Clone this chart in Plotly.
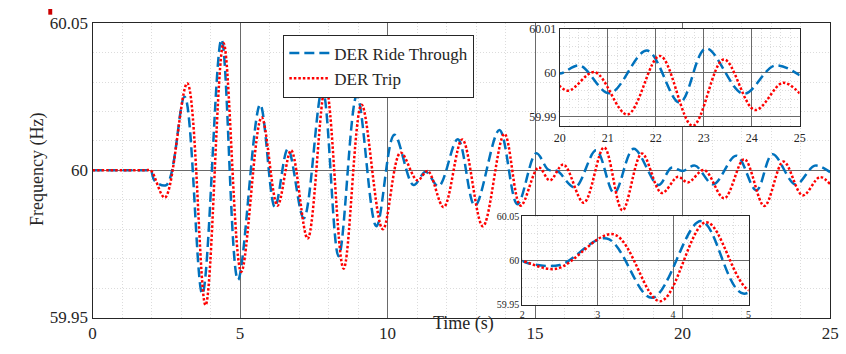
import plotly.graph_objects as go

# Time (s) and frequency (Hz): DER Ride Through
t_ride = [0, 1.0, 1.8, 1.97, 2.1, 2.5, 3.12, 3.72, 4.37, 4.93, 5.68, 6.18, 6.62, 7.16, 7.79, 8.34,
          8.96, 9.62, 10.23, 10.88, 11.29, 11.73, 12.38, 12.96, 13.79, 14.40, 15.04,
          15.45, 15.75, 16.35, 17.07, 17.68, 18.34, 19.18, 19.62, 20.0, 20.42, 21.04,
          21.82, 22.50, 23.05, 23.83, 24.48, 25.0]
f_ride = [60.0, 60.0, 60.0, 60.0, 59.9965, 59.9950, 60.0250, 59.9580, 60.0445, 59.9628, 60.0223,
          59.9875, 60.0073, 59.9837, 60.0277, 59.9708, 60.0255, 59.9810, 60.0121,
          59.9950, 59.9995, 59.9946, 60.0106, 59.9880, 60.0137, 59.9885, 60.0058,
          60.0002, 59.9998, 59.9942, 60.0068, 59.9923, 60.0073, 59.9950, 60.0009,
          59.9998, 60.0016, 59.9953, 60.0050, 59.9932, 60.0055, 59.9952, 60.0016, 59.9994]

# DER Trip
t_trip = [0, 1.0, 1.8, 1.97, 2.45, 3.21, 3.83, 4.44, 5.04, 5.73, 6.27, 6.73, 7.29, 7.90, 8.51,
          9.12, 9.84, 10.44, 11.01, 11.36, 11.90, 12.53, 13.23, 13.96, 14.51, 15.12,
          15.50, 15.96, 16.65, 17.34, 17.96, 18.62, 19.29, 19.84, 20.18, 20.73, 21.41,
          22.09, 22.77, 23.42, 24.07, 24.65, 25.0]
f_trip = [60.0, 60.0, 60.0, 60.0, 59.9907, 60.0296, 59.9542, 60.0432, 59.9655, 60.0180, 59.9880,
          60.0068, 59.9768, 60.0287, 59.9666, 60.0223, 59.9800, 60.0060, 59.9966,
          59.9998, 59.9875, 60.0105, 59.9810, 60.0124, 59.9880, 60.0010, 59.9966,
          60.0020, 59.9890, 60.0078, 59.9864, 60.0057, 59.9923, 59.9978, 59.9959,
          60.0001, 59.9905, 60.0038, 59.9879, 60.0030, 59.9915, 59.9977, 59.9953]

series_names = ["DER Ride Through", "DER Trip"]
main_xticks = [0, 5, 10, 15, 20, 25]
main_yticks = [59.95, 60, 60.05]
main_ytext = ["59.95", "60", "60.05"]
top_xticks = [20, 21, 22, 23, 24, 25]
top_yticks = [59.99, 60, 60.01]
top_ytext = ["59.99", "60", "60.01"]
bot_xticks = [2, 3, 4, 5]
bot_yticks = [59.95, 60, 60.05]
bot_ytext = ["59.95", "60", "60.05"]

W, H = 846, 354
FONT = "Liberation Serif"
BLUE = "#0072BD"
RED = "#FF0000"
FRAME = "#262626"
MAJ = "#6a6a6a"
MIN = "#dcdcdc"


def px_x(p):
    return p / W


def px_y(p):
    return 1 - p / H


fig = go.Figure()
for xa, ya, show in [("x", "y", True), ("x2", "y2", False), ("x3", "y3", False)]:
    fig.add_trace(go.Scatter(x=t_ride, y=f_ride, mode="lines", name=series_names[0],
                             line=dict(color=BLUE, width=2.5, dash="10px,5px", shape="spline", smoothing=1.0),
                             xaxis=xa, yaxis=ya, showlegend=show))
    fig.add_trace(go.Scatter(x=t_trip, y=f_trip, mode="lines", name=series_names[1],
                             line=dict(color=RED, width=2.5, dash="2.5px,2px", shape="spline", smoothing=1.0),
                             xaxis=xa, yaxis=ya, showlegend=show))


def ax(domain, rng, tickvals, ticktext, minor_dtick, fsize, anchor):
    return dict(domain=domain, range=rng, tickvals=tickvals, ticktext=ticktext,
                showline=True, mirror=True, linecolor=FRAME, linewidth=1.3,
                showgrid=True, gridcolor=MAJ, gridwidth=1, zeroline=False,
                ticks="", tickfont=dict(family=FONT, size=fsize, color="#262626"),
                minor=dict(dtick=minor_dtick, showgrid=True, gridcolor=MIN, griddash="1px,2px",
                           gridwidth=1, ticks=""),
                anchor=anchor)


fig.update_layout(
    width=W, height=H, margin=dict(l=0, r=0, t=0, b=0),
    paper_bgcolor="white", plot_bgcolor="white",
    xaxis=ax([px_x(88), px_x(838)], [0, 25], main_xticks, [str(v) for v in main_xticks], 1, 17, "y"),
    yaxis=ax([px_y(326), px_y(15)], [59.95, 60.05], main_yticks, main_ytext, 0.01, 17, "x"),
    xaxis2=ax([px_x(563), px_x(807)], [20, 25], top_xticks, [str(v) for v in top_xticks], 0.2, 12, "y2"),
    yaxis2=ax([px_y(124), px_y(20.7)], [59.9878, 60.01], top_yticks, top_ytext, 0.002, 12, "x2"),
    xaxis3=ax([px_x(525), px_x(755)], [2, 5], bot_xticks, [str(v) for v in bot_xticks], 0.2, 10, "y3"),
    yaxis3=ax([px_y(312.7), px_y(219)], [59.95, 60.05], bot_yticks, bot_ytext, 0.01, 10, "x3"),
    legend=dict(x=px_x(282), y=px_y(27), xanchor="left", yanchor="top",
                bgcolor="white", bordercolor=FRAME, borderwidth=1,
                font=dict(family=FONT, size=17, color="#262626"), tracegroupgap=0,
                itemwidth=40),
    showlegend=True,
    annotations=[
        dict(text="Time (s)", x=px_x(465), y=px_y(346), xref="paper", yref="paper",
             showarrow=False, font=dict(family=FONT, size=18, color="#262626")),
        dict(text="Frequency (Hz)", x=px_x(20), y=px_y(170), xref="paper", yref="paper",
             showarrow=False, textangle=-90, font=dict(family=FONT, size=18, color="#262626")),
    ],
    shapes=[dict(type="rect", xref="paper", yref="paper", x0=px_x(43), x1=px_x(47),
                 y0=px_y(6), y1=px_y(0), fillcolor="#cc0000", line=dict(width=0))],
)

fig.write_html("out.html")
